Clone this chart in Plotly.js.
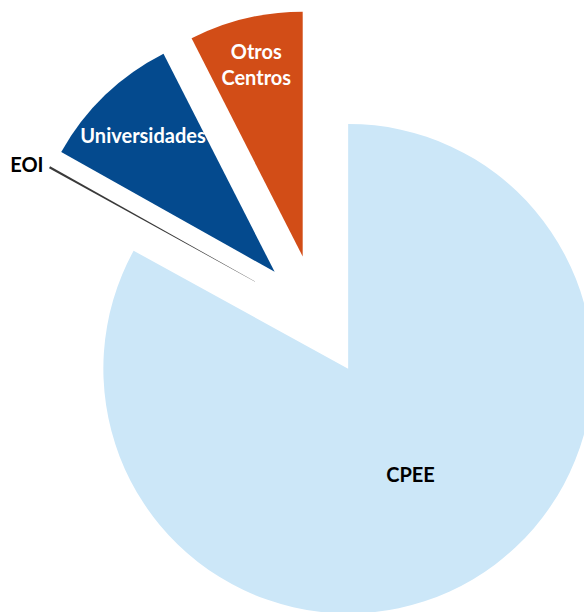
<!DOCTYPE html>
<html>
<head>
<meta charset="utf-8">
<script src="https://cdn.plot.ly/plotly-3.0.1.min.js"></script>
<style>
html,body{margin:0;padding:0;overflow:hidden;background:#fff;width:584px;height:612px;}
#chart{width:640px;height:640px;}
</style>
</head>
<body>
<div id="chart"></div>
<script>
const labels = ["CPEE", "EOI", "Universidades", "Otros<br>Centros"];
const values = [83.0, 0.15, 9.35, 7.5];
const colors = ["#CCE7F8", "#3a3a3a", "#044A8E", "#D24D17"];
const textColors = ["#000000", "#000000", "#ffffff", "#ffffff"];
const positions = ["inside", "outside", "inside", "inside"];

const trace = {
  type: "pie",
  labels: labels,
  values: values,
  sort: false,
  direction: "clockwise",
  rotation: 0,
  pull: [0.25, 0.25, 0.25, 0.25],
  textinfo: "label",
  textposition: positions,
  insidetextorientation: "horizontal",
  marker: {colors: colors, line: {width: 0}},
  insidetextfont: {color: textColors, family: "Lato", size: 20, weight: "bold"},
  outsidetextfont: {color: "#000000", family: "Lato", size: 20, weight: "bold"},
  textfont: {family: "Lato", size: 20, weight: "bold"},
  hoverinfo: "none",
  showlegend: false
};

const layout = {
  width: 640,
  height: 640,
  margin: {l: 11, r: 16.5, t: 10, b: 17.5},
  paper_bgcolor: "#ffffff",
  showlegend: false,
  uniformtext: {mode: "show", minsize: 20}
};

Plotly.newPlot("chart", [trace], layout, {staticPlot: true, displayModeBar: false});
</script>
</body>
</html>
